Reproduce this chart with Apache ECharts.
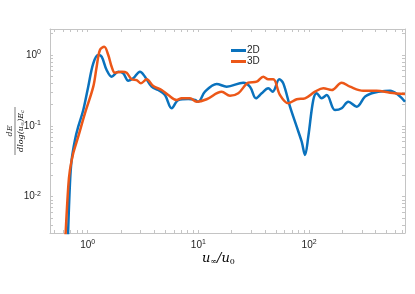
<!DOCTYPE html>
<html><head><meta charset="utf-8">
<script src="https://cdn.jsdelivr.net/npm/echarts@6/dist/echarts.min.js"></script>
<style>html,body{margin:0;padding:0;background:#fff}#c{width:415px;height:294px}</style>
</head><body><div id="c"></div>
<script>
// Axis ranges (data units)
const xRange = [0.457, 735];
const yRange = [0.00306, 2.33];
const xMajor = [1, 10, 100];
const yMajor = [0.01, 0.1, 1];
const seriesNames = ['2D', '3D'];

// 2D curve
const x2D = [0.66,0.692,0.717,0.768,0.822,0.913,1.012,1.124,1.247,1.338,1.484,1.647,1.889,2.097,2.327,2.582,2.968,3.293,3.785,4.343,4.992,5.74,6.585,8.104,9.318,9.98,11.47,14.63,18.02,25.44,29.25,33.14,37.31,42.8,46.91,53.81,58.48,67.22,77.27,85.75,91.83,98.35,109.1,117.1,130.0,144.2,171.4,197.0,226.0,269.1,319.9,367.7,421.7,538.2,639.6,735];
const y2D = [0.002,0.0154,0.0329,0.063,0.0971,0.167,0.357,0.763,1.0,0.946,0.614,0.494,0.581,0.551,0.434,0.469,0.581,0.494,0.357,0.32,0.272,0.177,0.231,0.239,0.231,0.219,0.303,0.39,0.357,0.406,0.357,0.2445,0.288,0.339,0.303,0.454,0.398,0.186,0.0971,0.0596,0.0387,0.0702,0.231,0.288,0.2445,0.272,0.167,0.177,0.219,0.186,0.258,0.288,0.303,0.313,0.272,0.219];

// 3D curve
const x3D = [0.624,0.668,0.692,0.741,0.822,0.945,1.124,1.206,1.291,1.413,1.535,1.647,1.765,2.028,2.25,2.497,2.771,3.03,3.412,3.914,4.661,5.35,6.368,7.066,8.397,9.652,11.88,16.24,19.3,22.94,28.24,33.62,38.58,42.8,47.5,54.6,64.9,77.27,91.83,113.1,134.4,160.0,197.0,234.2,308.9,408.0,538.2,735];
const y3D = [0.002,0.0138,0.0238,0.0409,0.0702,0.15,0.357,0.684,1.177,1.31,1.0,0.684,0.562,0.581,0.562,0.454,0.443,0.398,0.454,0.365,0.32,0.272,0.231,0.2445,0.2445,0.219,0.237,0.303,0.266,0.288,0.406,0.42,0.494,0.454,0.454,0.272,0.208,0.237,0.2445,0.303,0.339,0.32,0.406,0.357,0.313,0.313,0.2935,0.281];

const L = Math.log10;
function logTicks(lo, hi) {
  const out = [];
  for (let k = Math.floor(L(lo)); k <= Math.ceil(L(hi)); k++) {
    for (let m = 1; m <= 9; m++) {
      const v = m * Math.pow(10, k);
      if (v >= lo && v <= hi) out.push(L(v));
    }
  }
  return out;
}
const xTicks = logTicks(xRange[0], xRange[1]);
const yTicks = logTicks(yRange[0], yRange[1]);

const axisColor = '#c4c4c4';
const textColor = '#262626';
const rich = {
  b: {fontSize: 10, fontFamily: 'Liberation Sans', color: textColor},
  s: {fontSize: 7, fontFamily: 'Liberation Sans', color: textColor, padding: [0, 0, 6, 0]}
};
const fmt = v => '{b|10}{s|' + Math.round(v) + '}';

function mkAxis(pos, range, ticks, major, showLabel, margin) {
  return {
    type: 'value', position: pos, min: L(range[0]), max: L(range[1]),
    axisLine: {show: true, onZero: false, lineStyle: {color: axisColor, width: 1}},
    axisTick: {show: true, inside: true, length: 3, customValues: ticks, lineStyle: {color: axisColor, width: 1}},
    axisLabel: showLabel ? {show: true, customValues: major.map(L), formatter: fmt, rich: rich, margin: margin} : {show: false},
    splitLine: {show: false}
  };
}

const colors = ['#0A72BD', '#EC5718'];
const chart = echarts.init(document.getElementById('c'), null, {renderer: 'canvas'});
chart.setOption({
  animation: false,
  backgroundColor: '#fff',
  grid: {left: 50, right: 10, top: 29, bottom: 61, outerBoundsMode: 'none'},
  xAxis: [mkAxis('bottom', xRange, xTicks, xMajor, true, 6), mkAxis('top', xRange, xTicks, xMajor, false, 0)],
  yAxis: [mkAxis('left', yRange, yTicks, yMajor, true, 9), mkAxis('right', yRange, yTicks, yMajor, false, 0)],
  legend: {
    orient: 'vertical', left: 231, top: 45, padding: 0, itemGap: 0,
    itemWidth: 15, itemHeight: 3, icon: 'rect',
    textStyle: {fontSize: 10, fontFamily: 'Liberation Sans', color: textColor, padding: [0, 0, 0, -4], lineHeight: 11},
    data: seriesNames
  },
  series: [
    {name: seriesNames[0], type: 'line', data: x2D.map((x, i) => [L(x), L(y2D[i])]), smooth: 0.35, showSymbol: false, lineStyle: {color: colors[0], width: 2.5}, itemStyle: {color: colors[0]}, z: 3},
    {name: seriesNames[1], type: 'line', data: x3D.map((x, i) => [L(x), L(y3D[i])]), smooth: 0.35, showSymbol: false, lineStyle: {color: colors[1], width: 2.5}, itemStyle: {color: colors[1]}, z: 4}
  ],
  graphic: [
    {
      type: 'text', left: 202, top: 252,
      style: {
        text: '{i|u}{sub|∞}{i|/u}{sub|0}',
        rich: {
          i: {fontFamily: 'DejaVu Serif', fontStyle: 'italic', fontSize: 13, color: textColor},
          sub: {fontFamily: 'DejaVu Serif', fontSize: 8, color: textColor, padding: [6, 0, 0, 0]}
        }
      }
    },
    {
      type: 'group', x: 15, y: 131, rotation: Math.PI / 2,
      children: [
        {type: 'text', style: {text: 'dE', x: 0, y: -1, align: 'center', verticalAlign: 'bottom', font: 'italic 8px "DejaVu Serif"', fill: textColor}},
        {type: 'line', shape: {x1: -24, y1: 0, x2: 24, y2: 0}, style: {stroke: textColor, lineWidth: 0.6}},
        {type: 'text', style: {
          text: '{i|dlog(u}{sub|∞}{i|)E}{sub|c}', x: 0, y: 1, align: 'center', verticalAlign: 'top',
          rich: {
            i: {fontFamily: 'DejaVu Serif', fontStyle: 'italic', fontSize: 8, color: textColor},
            sub: {fontFamily: 'DejaVu Serif', fontStyle: 'italic', fontSize: 5, color: textColor, padding: [4, 0, 0, 0]}
          }
        }}
      ]
    }
  ]
});
</script></body></html>
